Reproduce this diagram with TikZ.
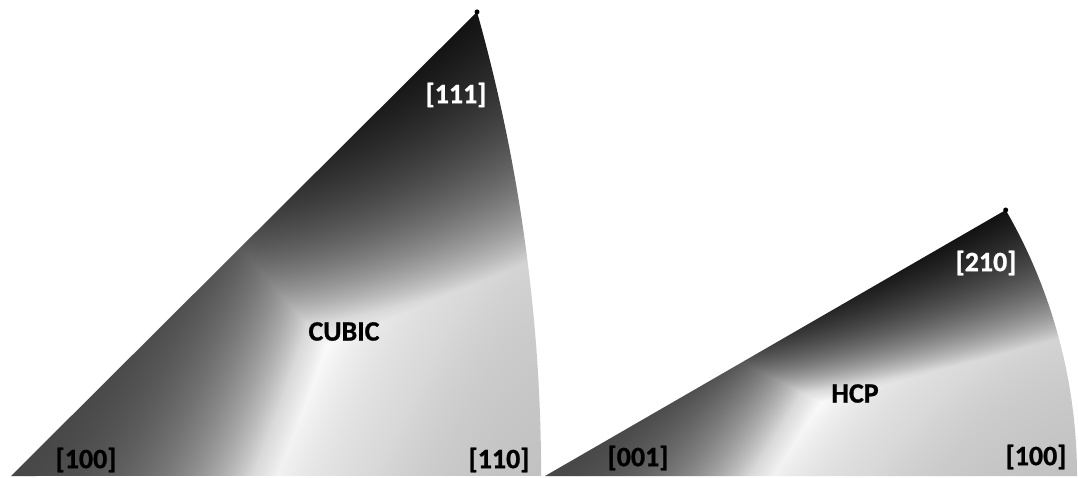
\documentclass[tikz,border=0pt]{standalone}
\usepackage{fontspec}
\setmainfont{Carlito}[BoldFeatures={FakeBold=1}]
\usepackage{tikz}

% Grey keys (x y -> g g g), domain -25..25 spans the shaded rectangle
% s = azimuth share, t = polar share, then R G B, max-normalised
\pgfdeclarefunctionalshading{cubickey}{\pgfpoint{-25bp}{-25bp}}{\pgfpoint{25bp}{25bp}}{}{
25 add 9.282 mul exch 25 add 10.6 mul 0.001 add
2 copy atan 45 div dup 1 gt {pop 1} if
3 1 roll
2 copy dup mul exch dup mul add sqrt
exch 1 index div
dup dup mul 1401856 mul 1535940 add sqrt exch 1184 mul sub
1279.5 atan exch 1279.5 atan exch div
exch pop dup 1 gt {pop 1} if
dup 1 exch sub 1.09 mul 1.5 exp
3 1 roll 1.5 exp
exch dup 2 index mul
3 1 roll 1 exch sub mul
exch
3 copy 2 copy lt {exch} if pop 2 copy lt {exch} if pop 0.000001 add
4 1 roll 0.07 mul exch 0.76 mul add exch 0.28 mul add exch div
dup 0.85 gt {0.85 sub 0.5 mul 0.85 add} if dup dup
}
\pgfdeclarefunctionalshading{hcpkey}{\pgfpoint{-25bp}{-25bp}}{\pgfpoint{25bp}{25bp}}{}{
25 add 5.32 mul exch 25 add 10.64 mul 0.001 add
2 copy atan 30 div dup 1 gt {pop 1} if
3 1 roll
dup mul exch dup mul add sqrt 532 div
1 atan 45 div dup 1 gt {pop 1} if
dup 1 exch sub 1.06 mul 1.5 exp
3 1 roll 1.5 exp
exch dup 2 index mul
3 1 roll 1 exch sub mul
exch
3 copy 2 copy lt {exch} if pop 2 copy lt {exch} if pop 0.000001 add
4 1 roll 0.07 mul exch 0.76 mul add exch 0.28 mul add exch div
dup 0.85 gt {0.85 sub 0.5 mul 0.85 add} if dup dup
}

\tikzset{
  pole/.style={font=\bfseries\fontsize{15.9}{19}\selectfont, inner sep=0pt},
  polew/.style={pole, text=white},
  tip/.style={fill=black}
}

\begin{document}
\begin{tikzpicture}[x=0.02cm, y=0.02cm]
\useasboundingbox (0,0) rectangle (1078,477);

% Cubic triangle
\coordinate (cA) at (11,1);
\coordinate (cB) at (541,1);
\coordinate (cC) at (477,465.1);
\begin{scope}
  \clip (cA) -- (cC) arc[start angle=15.71, end angle=0, radius=1714] -- cycle;
  \shade[shading=cubickey] (11,1) rectangle (541,465.1);
\end{scope}
\fill[tip] (cC) circle[radius=2.5];

% HCP triangle
\coordinate (hA) at (545,1);
\coordinate (hB) at (1077,1);
\coordinate (hC) at (1005.7,267);
\begin{scope}
  \clip (hA) -- (hB) arc[start angle=0, end angle=30, radius=532] -- cycle;
  \shade[shading=hcpkey] (545,1) rectangle (1077,267);
\end{scope}
\fill[tip] (hC) circle[radius=2.5];

% Labels
\node[pole] (c100) at (86,17) {[100]};
\node[polew] (c111) at (456,382) {[111]};
\node[pole] (c110) at (499,17) {[110]};
\node[pole] (cubic) at (344,145.5) {CUBIC};
\node[pole] (h001) at (638,19) {[001]};
\node[polew] (h210) at (986,214) {[210]};
\node[pole] (h100) at (1036,20) {[100]};
\node[pole] (hcp) at (855,83.5) {HCP};

\end{tikzpicture}
\end{document}
